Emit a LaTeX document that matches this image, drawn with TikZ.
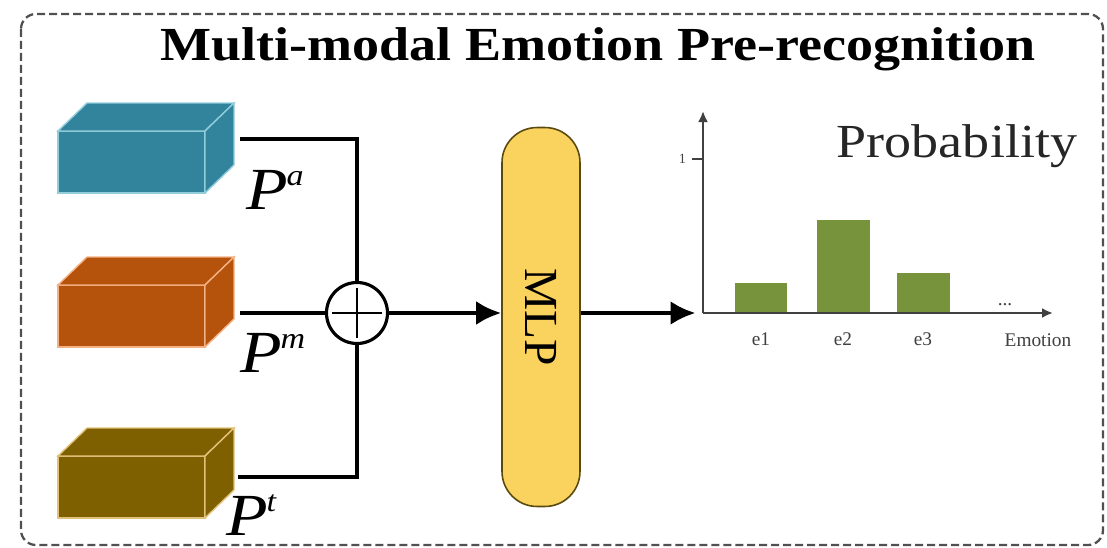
\documentclass[tikz,border=0pt]{standalone}
\usepackage{fontspec}
\setmainfont{Liberation Serif}
\usepackage{xcolor}
\usetikzlibrary{arrows,arrows.meta,positioning,calc}

\definecolor{audioblue}{HTML}{31849B}
\definecolor{audioedge}{HTML}{92CDDC}
\definecolor{motionorange}{HTML}{B5520C}
\definecolor{motionedge}{HTML}{F4B183}
\definecolor{textolive}{HTML}{7F6000}
\definecolor{textedge}{HTML}{E2C27A}
\definecolor{mlpfill}{HTML}{FAD25E}
\definecolor{mlpedge}{HTML}{5A4A10}
\definecolor{bargreen}{HTML}{77933C}
\definecolor{axisgray}{HTML}{404040}
\definecolor{framegray}{HTML}{505050}

% feature block drawn as a box in perspective: #1 top of front face, #2 fill, #3 edges
\newcommand{\featblock}[3]{%
  \filldraw[fill=#2, draw=#3, line width=0.8pt] (58,#1) rectangle (205,{#1+62});
  \filldraw[fill=#2, draw=#3, line width=0.8pt] (58,#1) -- (87,{#1-28}) -- (234,{#1-28}) -- (205,#1) -- cycle;
  \filldraw[fill=#2, draw=#3, line width=0.8pt] (205,#1) -- (234,{#1-28}) -- (234,{#1+34}) -- (205,{#1+62}) -- cycle;
}
% horizontally widened text
\newcommand{\widetext}[1]{\scalebox{1.14}[1]{#1}}
% feature name P with a small raised modality letter
\newcommand{\featname}[1]{P\kern-0.02em\raisebox{0.4em}{\fontsize{17}{17}\selectfont #1}}

\begin{document}
\begin{tikzpicture}[
x=0.02cm, y=-0.02cm, >=latex,
frame/.style = {draw=framegray, line width=1.3pt, dash pattern=on 0.16cm off 0.08cm, rounded corners=0.3cm},
title/.style = {font=\bfseries\fontsize{27}{32}\selectfont},
feat-label/.style = {anchor=base west, font=\itshape\fontsize{34}{38}\selectfont, inner sep=0pt},
wire/.style = {line width=2.2pt, black},
flow/.style = {line width=2.4pt, -{Latex[length=0.5cm,width=0.48cm]}},
axis/.style = {line width=1.4pt, draw=axisgray, -{Latex[length=0.22cm,width=0.2cm]}},
sum-node/.style = {circle, draw, line width=1.8pt, minimum size=1.22cm, inner sep=0pt,
  path picture={\draw[line width=1.6pt]
    ([xshift=-0.5cm]path picture bounding box.center) -- ([xshift=0.5cm]path picture bounding box.center)
    ([yshift=-0.5cm]path picture bounding box.center) -- ([yshift=0.5cm]path picture bounding box.center);}},
mlp-node/.style = {draw=mlpedge, fill=mlpfill, line width=0.9pt, rounded corners=0.7cm,
  minimum width=1.56cm, minimum height=7.58cm},
small-label/.style = {font=\fontsize{11}{13}\selectfont, text=axisgray}
]

\useasboundingbox (0,0) rectangle (1107,548);

% dashed frame and heading
\draw[frame] (21,14) rectangle (1103,545);
\node[title] (title) at (598,49) {\widetext{Multi-modal Emotion Pre-recognition}};

% modality features
\featblock{131}{audioblue}{audioedge}
\featblock{285}{motionorange}{motionedge}
\featblock{456}{textolive}{textedge}

\coordinate (pa) at (240,139);
\coordinate (pm) at (240,313);
\coordinate (pt) at (238,477);

\node[feat-label] (pa-label) at (246,209) {\widetext{\featname{a}}};
\node[feat-label] (pm-label) at (240,372) {\widetext{\featname{m}}};
\node[feat-label] (pt-label) at (226,535) {\widetext{\featname{t}}};

% fusion and MLP
\node[sum-node] (sum) at (357,313) {};
\node[mlp-node] (mlp) at (541,317) {};
\node[rotate=-90, font=\fontsize{27}{32}\selectfont] (mlp-text) at (mlp.center) {MLP};

\draw[wire] (pa) -| (sum);
\draw[wire] (pm) -- (sum);
\draw[wire] (pt) -| (sum);
\draw[flow] (sum) -- (sum -| mlp.west);

% probability chart
\coordinate (origin) at (703,313);
\coordinate (y-end) at (703,111);
\coordinate (x-end) at (1053,313);

\draw[flow] (mlp.east |- origin) -- ([xshift=-0.15cm]origin);
\fill[bargreen] (735,313) rectangle (787,283);
\fill[bargreen] (817,313) rectangle (870,220);
\fill[bargreen] (897,313) rectangle (950,273);
\draw[axis] (origin) -- (y-end);
\draw[axis] (origin) -- (x-end);
\draw[axisgray, line width=1.2pt] (692,159) -- (703,159);
\node[font=\fontsize{8}{9}\selectfont, text=axisgray, left=0pt of {(692,159)}] (one) {1};

\node[small-label] (e1) at (761,339) {e1};
\node[small-label] (e2) at (843,339) {e2};
\node[small-label] (e3) at (923,339) {e3};
\node[small-label] (emotion) at (1038,340) {Emotion};
\node[small-label, anchor=base] (dots) at (1005,305) {...};
\node[font=\fontsize{27}{32}\selectfont, text=black!85] (prob) at (957,146) {\widetext{Probability}};

\end{tikzpicture}
\end{document}
